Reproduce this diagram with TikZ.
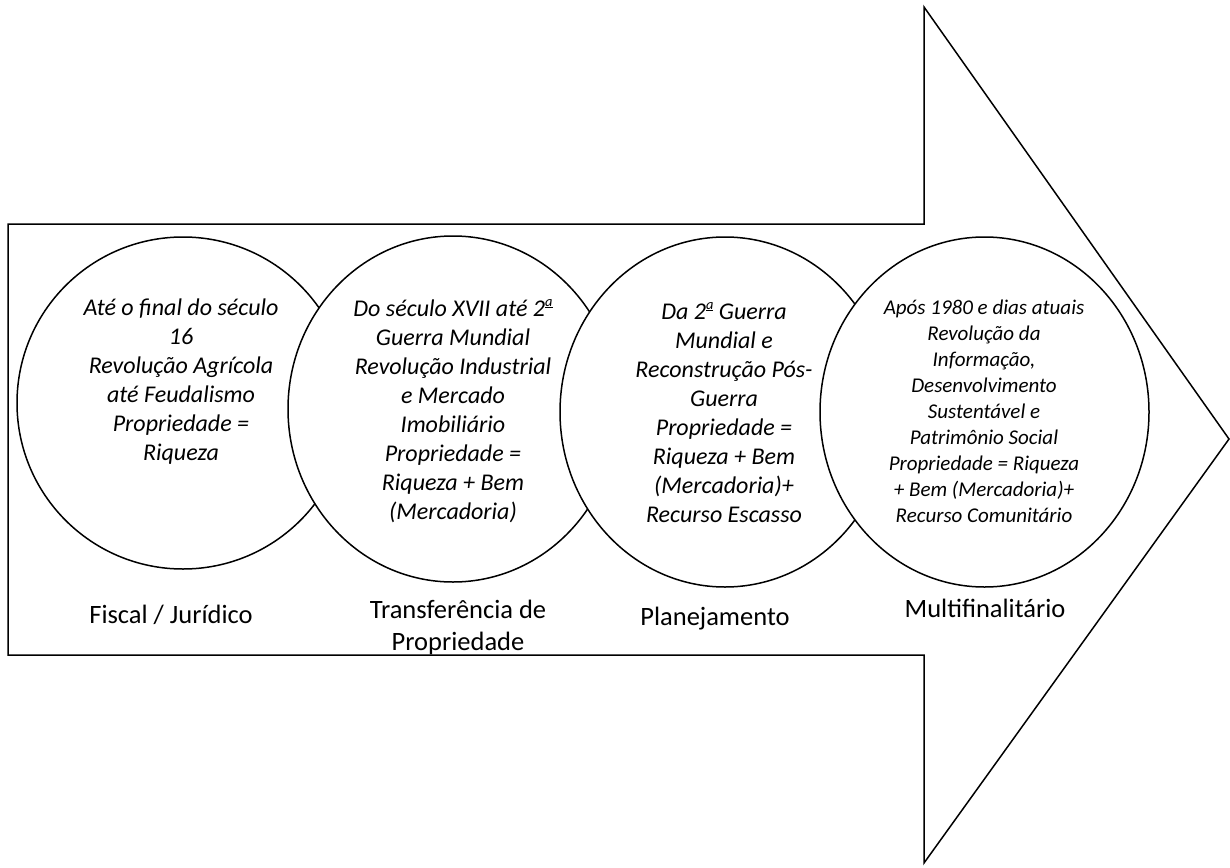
\documentclass[tikz,border=0pt]{standalone}
\usepackage{fontspec}
\setmainfont{Carlito}
\usetikzlibrary{shapes.geometric}

% feminine ordinal drawn as a raised, underlined small a
\newcommand{\ordfem}{\raisebox{0.42em}{\underline{\fontsize{0.6em}{0.6em}\selectfont a}}}

\tikzset{
  outline/.style={draw=black, line width=1.5pt, fill=white, line join=miter},
  era/.style={ellipse, draw=black, line width=1.5pt, fill=white, inner sep=0pt},
  eratext/.style={align=center, inner sep=0pt, anchor=north,
    font=\itshape\fontsize{24}{29}\selectfont},
  eratextsmall/.style={align=center, inner sep=0pt, anchor=north,
    font=\itshape\fontsize{21}{26}\selectfont},
  stage/.style={align=center, inner sep=0pt, anchor=base,
    font=\fontsize{26.5}{32}\selectfont}
}

\begin{document}
\begin{tikzpicture}[x=1pt, y=-1pt]
  \useasboundingbox (0,0) rectangle (1230,867);

  % the big block arrow
  \coordinate (bodyTL) at (8,224);
  \coordinate (neckT) at (924,224);
  \coordinate (headT) at (924,7);
  \coordinate (tip) at (1229,439);
  \coordinate (headB) at (924,863);
  \coordinate (neckB) at (924,655);
  \coordinate (bodyBL) at (8,655);
  \draw[outline] (bodyTL) -- (neckT) -- (headT) -- (tip) -- (headB)
    -- (neckB) -- (bodyBL) -- cycle;

  % era 1
  \node[era, minimum width=332pt, minimum height=332pt] (e1) at (183,403) {};
  \node[eratext] (t1) at (181,299) {Até o final do século\\16\\Revolução Agrícola\\até Feudalismo\\Propriedade =\\Riqueza};

  % era 2
  \node[era, minimum width=330pt, minimum height=346pt] (e2) at (453,409) {};
  \node[eratext] (t2) at (453,299) {Do século XVII até 2\ordfem\\Guerra Mundial\\Revolução Industrial\\e Mercado\\Imobiliário\\Propriedade =\\Riqueza + Bem\\(Mercadoria)};

  % era 3
  \node[era, minimum width=330pt, minimum height=350pt] (e3) at (725,412) {};
  \node[eratext] (t3) at (724,302) {Da 2\ordfem{} Guerra\\Mundial e\\Reconstrução Pós-\\Guerra\\Propriedade =\\Riqueza + Bem\\(Mercadoria)+\\Recurso Escasso};

  % era 4
  \node[era, minimum width=329pt, minimum height=350pt] (e4) at (984.5,412) {};
  \node[eratextsmall] (t4) at (984,300) {Após 1980 e dias atuais\\Revolução da\\Informação,\\Desenvolvimento\\Sustentável e\\Patrimônio Social\\Propriedade = Riqueza\\+ Bem (Mercadoria)+\\Recurso Comunitário};

  % cadastre purposes
  \node[stage] (s1) at (171,623) {Fiscal / Jurídico};
  \node[stage] (s2) at (458,618) {Transferência de};
  \node[stage] (s2b) at (458,650) {Propriedade};
  \node[stage] (s3) at (715,625) {Planejamento};
  \node[stage] (s4) at (985,617) {Multifinalitário};
\end{tikzpicture}
\end{document}
